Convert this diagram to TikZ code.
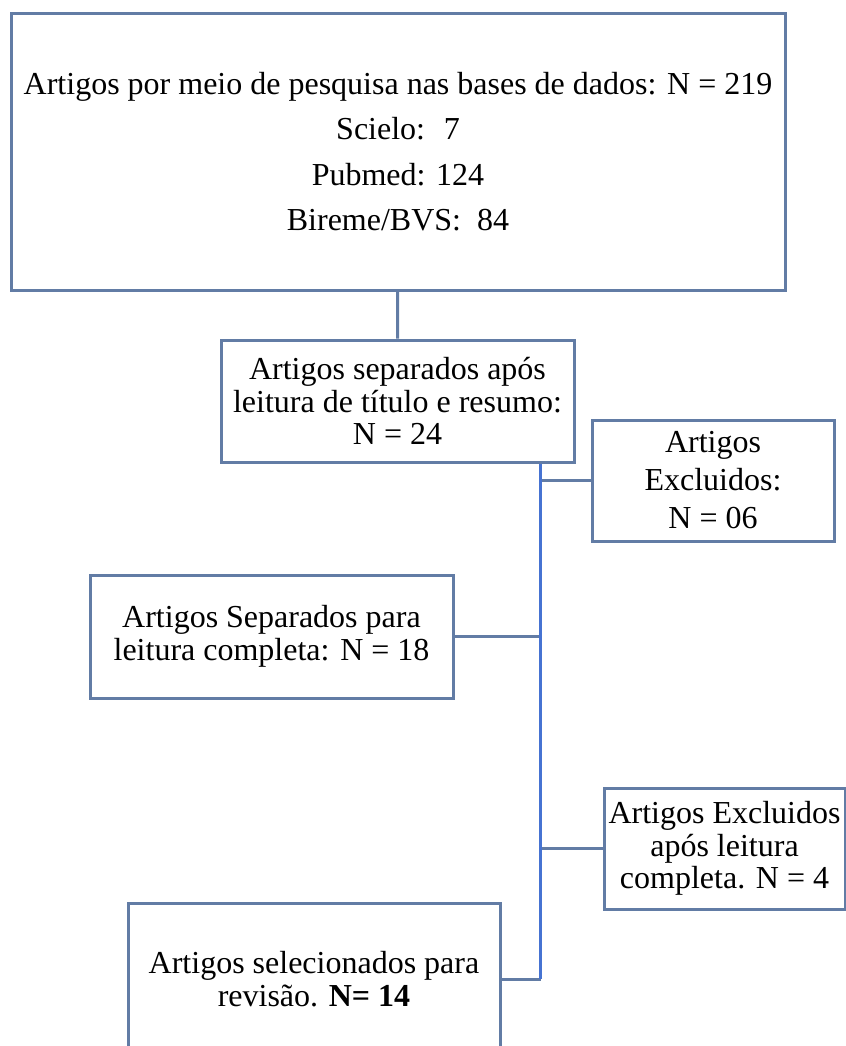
\documentclass[tikz,border=0pt]{standalone}
\usepackage{fontspec}
\setmainfont{Liberation Serif}
\usepackage{tikz}
\usetikzlibrary{arrows}
\definecolor{boxline}{RGB}{98,124,165}
\definecolor{trunkline}{RGB}{70,115,210}

\begin{document}
\begin{tikzpicture}[x=0.5pt,y=-0.5pt,main node/.style={rectangle,draw=boxline,line width=1.5pt,fill=white,align=center,inner sep=0pt,font=\fontsize{16}{16.25}\selectfont}]
  \useasboundingbox (0,0) rectangle (846,1046);
  \node[main node,minimum width=387pt,minimum height=138.5pt,font=\fontsize{16}{22.75}\selectfont] (1) at (398,151.5) {Artigos por meio de pesquisa nas bases de dados: N = 219\\Scielo:~ 7\\Pubmed: 124\\Bireme/BVS:~ 84};
  \node[main node,minimum width=176.5pt,minimum height=61pt] (2) at (397.5,401) {Artigos separados após\\leitura de título e resumo:\\N = 24};
  \node[main node,minimum width=121pt,minimum height=60.5pt,font=\fontsize{16}{19}\selectfont] (3) at (713,480.5) {Artigos\\Excluidos:\\N = 06};
  \node[main node,minimum width=181.5pt,minimum height=61.5pt] (4) at (271.5,636.5) {Artigos Separados para\\leitura completa: N = 18};
  \node[main node,minimum width=120.5pt,minimum height=60.5pt] (5) at (724.5,848.5) {Artigos Excluidos\\após leitura\\completa. N = 4};
  \node[main node,minimum width=186pt,minimum height=76pt] (6) at (314,979) {Artigos selecionados para\\revisão. \textbf{N= 14}};
  \coordinate (t) at ([xshift=-17.5pt]2.south east);

  \path[color=boxline, line width=1.5pt]
    (1) edge (2)
    (t |- 3.west) edge (3)
    (t |- 4.east) edge (4)
    (t |- 5.west) edge (5)
    (t |- 6.east) edge (6);

  \path[color=trunkline, line width=1.5pt]
    (t) edge (t |- 6.east);
\end{tikzpicture}
\end{document}
